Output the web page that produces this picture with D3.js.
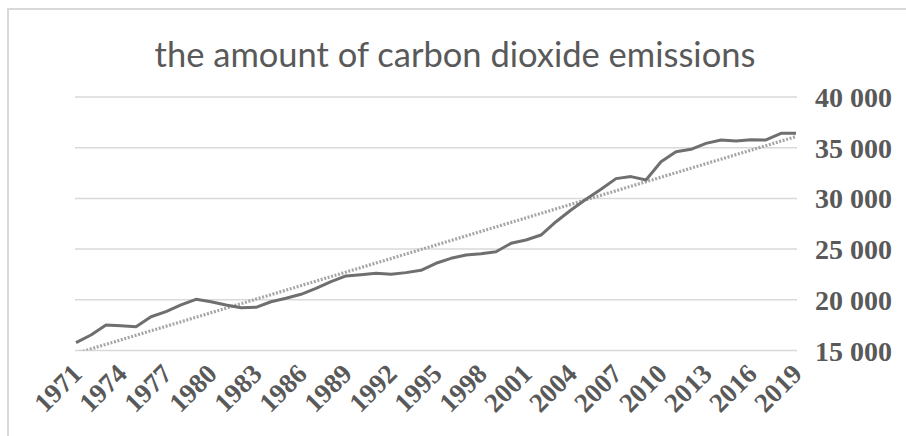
<!DOCTYPE html>
<html>
<head>
<meta charset="utf-8">
<script src="https://cdn.jsdelivr.net/npm/d3@7"></script>
<style>
  html, body { margin: 0; padding: 0; background: #fff; }
  svg { display: block; }
</style>
</head>
<body>
<svg id="chart" width="906" height="436"></svg>
<script>
// Annual CO2 emissions, 1971–2019
const years = d3.range(1971, 2020);
const emissions = [
  15770, 16530, 17510, 17450, 17350, 18330, 18830, 19490, 20050, 19810,
  19490, 19220, 19260, 19810, 20150, 20540, 21130, 21790, 22350, 22480,
  22610, 22520, 22680, 22910, 23600, 24090, 24420, 24550, 24740, 25570,
  25900, 26390, 27700, 28860, 29910, 30900, 31950, 32150, 31820, 33620,
  34610, 34840, 35430, 35760, 35660, 35790, 35760, 36420, 36420
];
const yTicks = [15000, 20000, 25000, 30000, 35000, 40000];
const xTickYears = d3.range(1971, 2020, 3);
const title = "the amount of carbon dioxide emissions";

const svg = d3.select("#chart");
const plot = { left: 76, right: 796, top: 97, bottom: 350.5 };

const x = d3.scaleLinear().domain([1971, 2019]).range([plot.left, plot.right]);
const y = d3.scaleLinear().domain([15000, 40000]).range([plot.bottom, plot.top]);

// chart frame
svg.append("rect")
  .attr("x", 8).attr("y", 9).attr("width", 920).attr("height", 460)
  .attr("fill", "none").attr("stroke", "#d9d9d9").attr("stroke-width", 2);

// title
svg.append("text")
  .attr("x", 455).attr("y", 67)
  .attr("text-anchor", "middle")
  .attr("font-family", "Lato, 'Open Sans', sans-serif")
  .attr("font-size", 34.5)
  .attr("fill", "#595959")
  .text(title);

// horizontal gridlines
svg.append("g")
  .selectAll("line")
  .data(yTicks)
  .join("line")
  .attr("x1", plot.left - 1).attr("x2", plot.right + 1)
  .attr("y1", d => y(d)).attr("y2", d => y(d))
  .attr("stroke", "#d9d9d9").attr("stroke-width", 1.5);

// right-hand value axis
const fmt = d => d3.format(",")(d).replace(/,/g, " ");
const yAxis = d3.axisRight(y).tickValues(yTicks).tickFormat(fmt).tickSize(0).tickPadding(0);
const gy = svg.append("g").attr("transform", `translate(815,0)`).call(yAxis);
gy.select(".domain").remove();
gy.selectAll("text")
  .attr("font-family", "'Liberation Serif', 'Times New Roman', serif")
  .attr("font-weight", "bold")
  .attr("font-size", 28)
  .attr("fill", "#595959")
  .attr("dy", "0.34em");

// category axis labels, rotated
const xAxis = d3.axisBottom(x).tickValues(xTickYears).tickFormat(d3.format("d")).tickSize(0).tickPadding(0);
const gx = svg.append("g").attr("transform", `translate(0,${plot.bottom})`).call(xAxis);
gx.select(".domain").remove();
gx.selectAll("text")
  .attr("font-family", "'Liberation Serif', 'Times New Roman', serif")
  .attr("font-weight", "bold")
  .attr("font-size", 27)
  .attr("fill", "#595959")
  .attr("text-anchor", "end")
  .attr("dy", null)
  .attr("y", 0)
  .attr("transform", "translate(7,25) rotate(-45)");

// linear trendline (least squares over the series)
const mx = d3.mean(years), my = d3.mean(emissions);
const slope = d3.sum(years, (t, i) => (t - mx) * (emissions[i] - my)) /
              d3.sum(years, t => (t - mx) * (t - mx));
const icpt = my - slope * mx;
const trendPts = [1971, 2019].map(t => [t, icpt + slope * t]);

svg.append("clipPath").attr("id", "plotClip")
  .append("rect")
  .attr("x", plot.left - 2).attr("y", plot.top - 5)
  .attr("width", plot.right - plot.left + 4).attr("height", plot.bottom - plot.top + 5);

svg.append("path")
  .datum(trendPts)
  .attr("clip-path", "url(#plotClip)")
  .attr("fill", "none")
  .attr("stroke", "#a6a6a6")
  .attr("stroke-width", 3.2)
  .attr("stroke-dasharray", "2,1.6")
  .attr("d", d3.line().x(d => x(d[0])).y(d => y(d[1])));

// emissions line
svg.append("path")
  .datum(emissions)
  .attr("fill", "none")
  .attr("stroke", "#6f6f6f")
  .attr("stroke-width", 3)
  .attr("stroke-linejoin", "round")
  .attr("d", d3.line().x((d, i) => x(years[i])).y(d => y(d)));
</script>
</body>
</html>
